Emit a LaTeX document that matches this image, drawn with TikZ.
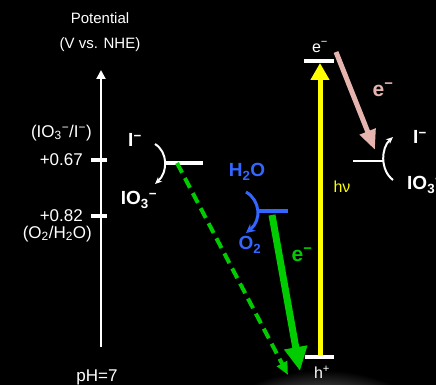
\documentclass[tikz,border=0pt]{standalone}
\usepackage{fontspec}
\setmainfont{Liberation Sans}
\usepackage{xcolor}
\usetikzlibrary{arrows.meta}

\definecolor{zgreen}{RGB}{0,204,0}
\definecolor{zblue}{RGB}{51,102,255}
\definecolor{zpink}{RGB}{230,180,175}
\definecolor{zyellow}{RGB}{255,255,0}

\newcommand{\minus}{\textsuperscript{−}}

\begin{document}
\begin{tikzpicture}[
  x=1pt,y=-1pt,
  txt/.style={text=white,inner sep=0pt,font=\fontsize{17}{18}\selectfont},
  lbl/.style={inner sep=0pt,font=\fontsize{19}{20}\selectfont\bfseries},
  lvl/.style={draw=white,line width=4pt},
  tick/.style={draw=white,line width=4pt},
  curv/.style={draw=white,line width=2pt,-{Stealth[length=7pt,width=6pt]}}
]
\fill[black] (0,0) rectangle (436,385);
\useasboundingbox (0,0) rectangle (436,385);
% faint glow below h+
\begin{scope}
\clip (0,0) rectangle (436,385);
\shade[inner color=gray!22,outer color=black] (322,445) ellipse (120 and 75);
\end{scope}

% potential axis
\node[txt,font=\fontsize{15}{16}\selectfont] (pot) at (100,18) {Potential};
\node[txt,font=\fontsize{15}{16}\selectfont] (unit) at (100,45) {(V vs. NHE)};
\coordinate (axbot) at (101,347);
\coordinate (axtop) at (101,70);
\draw[white,line width=2pt,-{Triangle[length=9pt,width=9pt]}] (axbot) -- (axtop);
\draw[tick] (91,160) -- (107,160);
\draw[tick] (91,216) -- (107,216);
\node[txt,anchor=east] (iocouple) at (92,133) {(IO\textsubscript{3}\minus/I\minus)};
\node[txt,anchor=east] (v1) at (83,160) {+0.67};
\node[txt,anchor=east] (v2) at (83,216) {+0.82};
\node[txt,anchor=east] (ocouple) at (92,234) {(O\textsubscript{2}/H\textsubscript{2}O)};
\node[txt] (ph) at (97,377) {pH=7};

% iodide level (left)
\coordinate (ioA) at (165,163);
\coordinate (ioB) at (203,163);
\draw[lvl,line width=3.5pt] (ioA) -- (ioB);
\node[lbl,text=white] (iL) at (135,140) {I\minus};
\node[lbl,text=white] (io3L) at (139,200) {IO\textsubscript{3}\minus};
\coordinate (cL1) at (155,144);
\coordinate (cL2) at (155,184);
\draw[curv] (cL1) .. controls (168,152) and (168,172) .. (cL2);

% water level
\coordinate (wA) at (259,211);
\coordinate (wB) at (288,211);
\draw[zblue,line width=4pt] (wA) -- (wB);
\node[lbl,text=zblue] (h2o) at (247,172) {H\textsubscript{2}O};
\node[lbl,text=zblue] (o2) at (250,245) {O\textsubscript{2}};
\coordinate (cW1) at (246,192);
\coordinate (cW2) at (246,233);
\draw[zblue,line width=3pt,-{Stealth[length=9pt,width=9pt]}] (cW1) .. controls (260,200) and (262,220) .. (cW2);

% photocatalyst levels
\coordinate (cbA) at (304,61);
\coordinate (cbB) at (334,61);
\coordinate (vbA) at (305,357);
\coordinate (vbB) at (334,357);
\draw[lvl] (cbA) -- (cbB);
\draw[lvl] (vbA) -- (vbB);
\node[txt,font=\fontsize{16}{17}\selectfont] (ecb) at (320,47) {e\minus};
\node[txt,font=\fontsize{16}{17}\selectfont] (hvb) at (322,372) {h\textsuperscript{+}};
\coordinate (vbmid) at (320,355);
\coordinate (cbmid) at (320,63);
\draw[zyellow,line width=5pt,-{Triangle[length=17pt,width=18pt]}] (vbmid) -- (cbmid);
\node[inner sep=0pt,text=zyellow,font=\fontsize{16}{17}\selectfont] (hnu) at (342,187) {hν};

% recombination paths
\coordinate (gS) at (272,215);
\coordinate (gE) at (300,371);
\draw[zgreen,line width=7pt,-{Triangle[length=24pt,width=22pt]}] (gS) -- (gE);
\node[lbl,text=zgreen,font=\fontsize{21}{22}\selectfont\bfseries] (eg) at (302,255) {e\minus};
\coordinate (dS) at (177,163);
\coordinate (dE) at (288,375);
\draw[zgreen,line width=4pt,dash pattern=on 11pt off 6pt,-{Triangle[length=13pt,width=11pt]}] (dS) -- (dE);

% electron to iodate (right)
\coordinate (pS) at (336,52);
\coordinate (pE) at (375,150);
\draw[zpink,line width=5pt,-{Triangle[length=20pt,width=16pt]}] (pS) -- (pE);
\node[lbl,text=zpink,font=\fontsize{21}{22}\selectfont\bfseries] (ep) at (383,90) {e\minus};
\coordinate (rA) at (353,161);
\coordinate (rB) at (383,161);
\draw[white,line width=1.5pt] (rA) -- (rB);
\node[lbl,text=white] (iR) at (420,137) {I\minus};
\node[lbl,text=white,anchor=west] (io3R) at (407,185) {IO\textsubscript{3}\minus};
\coordinate (cR1) at (393,180);
\coordinate (cR2) at (393,137);
\draw[curv] (cR1) .. controls (380,170) and (381,148) .. (cR2);
\end{tikzpicture}
\end{document}
